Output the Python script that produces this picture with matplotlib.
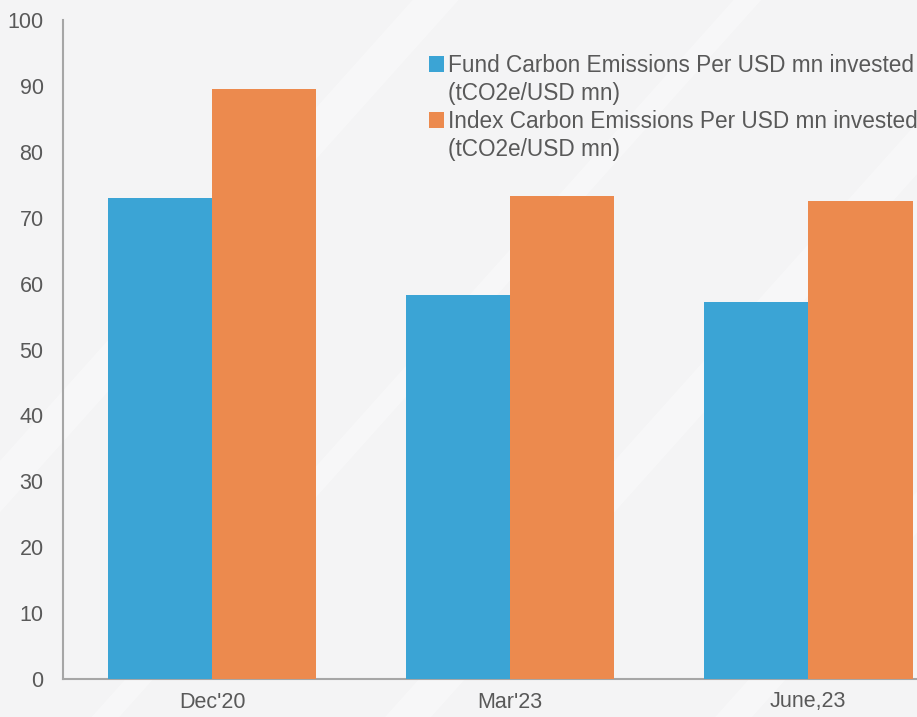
import numpy as np
import matplotlib.pyplot as plt
from matplotlib.patches import Polygon, Patch

plt.rcParams["font.family"] = ["Liberation Sans", "DejaVu Sans"]

categories = ["Dec'20", "Mar'23", "June,23"]
fund_values = [73.0, 58.2, 57.2]
index_values = [89.6, 73.3, 72.6]
fund_label = ["Fund Carbon Emissions Per USD mn invested", "(tCO2e/USD mn)"]
index_label = ["Index Carbon Emissions Per USD mn invested", "(tCO2e/USD mn)"]

blue = "#3BA4D5"
orange = "#EC8A4E"
text_col = "#595959"

fig = plt.figure(figsize=(9.17, 7.17), dpi=100)
fig.patch.set_facecolor("#F4F4F5")

# faint diagonal sheen behind everything
for x0, w in [(-0.25, 0.05), (0.1, 0.03), (0.42, 0.05), (0.78, 0.04), (1.05, 0.05)]:
    band = Polygon([(x0, 0), (x0 + w, 0), (x0 + w + 0.7, 1), (x0 + 0.7, 1)],
                   closed=True, transform=fig.transFigure,
                   facecolor="white", alpha=0.35, edgecolor="none", zorder=-5)
    fig.patches.append(band)

ax = fig.add_axes([63 / 917, 38 / 717, 1 - 63 / 917, 659 / 717])
ax.patch.set_alpha(0)
ax.set_zorder(2)

x = np.arange(len(categories))
w = 0.35
ax.bar(x - w / 2, fund_values, width=w, color=blue, zorder=3)
ax.bar(x + w / 2, index_values, width=w, color=orange, zorder=3)

ax.set_xlim(-0.5, 2.365)
ax.set_ylim(0, 100)
ax.set_yticks(range(0, 101, 10))
ax.set_xticks(x)
ax.set_xticklabels(categories)
ax.tick_params(axis="both", length=0, labelsize=15.5, colors=text_col)
ax.tick_params(axis="y", pad=14)
ax.tick_params(axis="x", pad=9)

for s in ["top", "right"]:
    ax.spines[s].set_visible(False)
for s in ["left", "bottom"]:
    ax.spines[s].set_color("#A6A6A6")
    ax.spines[s].set_linewidth(1.5)

# legend: marker sits on the first line of each two-line label
blank = Patch(facecolor="none", edgecolor="none")
handles = [Patch(facecolor=blue), blank, Patch(facecolor=orange), blank]
labels = fund_label + index_label
leg = fig.legend(handles, labels, loc="upper left",
                 bbox_to_anchor=(429 / 917, 1 - 54 / 717),
                 frameon=False, fontsize=16.3, labelcolor=text_col,
                 handlelength=0.65, handleheight=0.65, handletextpad=0.2,
                 labelspacing=0.22, borderaxespad=0, borderpad=0)
leg.set_zorder(5)

fig.savefig("out.png", dpi=100, facecolor=fig.get_facecolor())
